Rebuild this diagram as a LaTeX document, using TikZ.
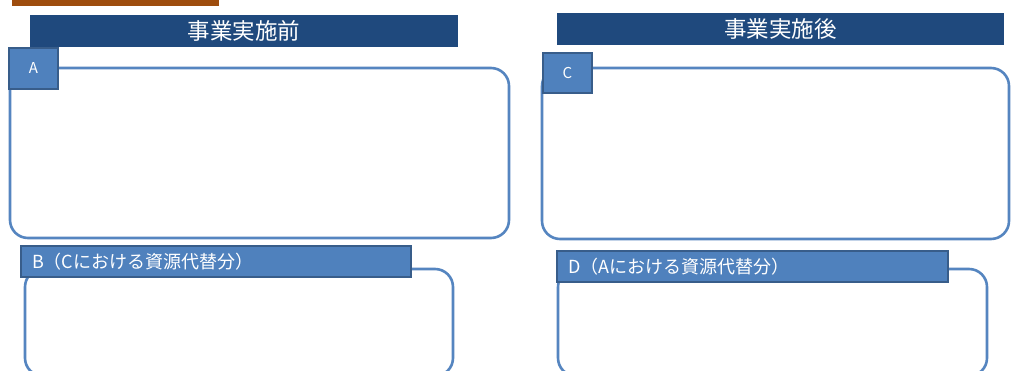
\documentclass[tikz,border=0pt]{standalone}
\usepackage{fontspec}
\setmainfont{Noto Sans CJK JP}
\definecolor{titleblue}{HTML}{1F497D}
\definecolor{labelblue}{HTML}{4F81BD}
\definecolor{labeledge}{HTML}{385D8A}
\definecolor{boxedge}{HTML}{5585C0}
\definecolor{barbrown}{HTML}{9E4D0E}
\begin{document}
\begin{tikzpicture}[x=1pt,y=-1pt,
  titlebar/.style={fill=titleblue, text=white, inner sep=0pt, font=\fontsize{22.5}{22.5}\selectfont},
  panel/.style={draw=boxedge, line width=2.6pt, rounded corners=18pt, inner sep=0pt},
  labelbox/.style={fill=labelblue, draw=labeledge, line width=1.8pt, text=white, inner sep=0pt, font=\fontsize{15}{15}\selectfont},
  headbox/.style={fill=labelblue, draw=labeledge, line width=1.8pt, text=white, inner ysep=0pt, inner xsep=11pt, align=left, font=\fontsize{18}{18}\selectfont}
]
\useasboundingbox (0,0) rectangle (1011,371);
\fill[white] (0,0) rectangle (1011,371);
\node[fill=barbrown, inner sep=0pt, minimum width=207pt, minimum height=6pt] (bar) at (115.5,3) {};
% titles
\node[titlebar, minimum width=428pt, minimum height=32pt] (t1) at (244,31) {事業実施前};
\node[titlebar, minimum width=447pt, minimum height=32pt] (t2) at (780.5,29) {事業実施後};
% panels
\node[panel, minimum width=499pt, minimum height=170pt] (pA) at (259.5,153) {};
\node[panel, minimum width=467pt, minimum height=171pt] (pC) at (775.5,153.5) {};
\node[panel, minimum width=428pt, minimum height=107pt] (pB) at (239,322.5) {};
\node[panel, minimum width=429pt, minimum height=107pt] (pD) at (772.5,322.5) {};
% labels
\node[labelbox, minimum width=49pt, minimum height=41pt] (lA) at (33.5,68.5) {A};
\node[labelbox, minimum width=49pt, minimum height=40pt] (lC) at (567.5,73) {C};
\node[headbox, text width=368pt, minimum height=31pt] (hB) at (216,261.5) {B（Cにおける資源代替分）};
\node[headbox, text width=369pt, minimum height=31pt] (hD) at (752.5,266.5) {D（Aにおける資源代替分）};
\end{tikzpicture}
\end{document}
